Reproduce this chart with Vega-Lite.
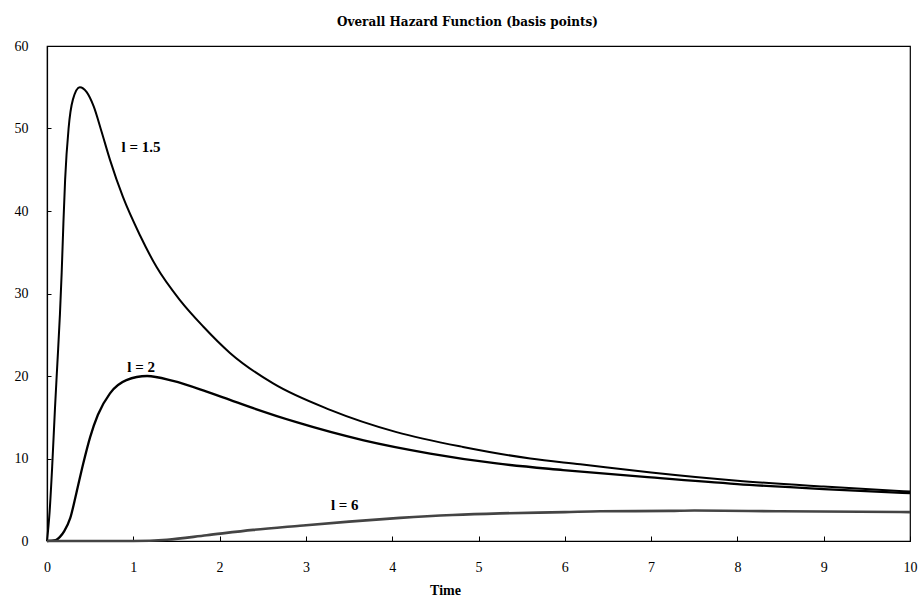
{
  "$schema": "https://vega.github.io/schema/vega-lite/v6.json",
  "width": 863,
  "height": 495,
  "autosize": {"type": "none"},
  "padding": {"left": 47, "top": 46, "right": 10, "bottom": 57},
  "background": "white",
  "config": {
    "view": {"stroke": "black", "strokeWidth": 1.2},
    "font": "Liberation Serif"
  },
  "title": {
    "text": "Overall Hazard Function (basis points)",
    "font": "DejaVu Serif",
    "fontSize": 12,
    "fontWeight": "bold",
    "color": "black",
    "offset": 10,
    "dx": -11
  },
  "datasets": {
    "curves": [
      {"series": "l15", "t": 0, "v": 0},
      {"series": "l15", "t": 0.03, "v": 3.5},
      {"series": "l15", "t": 0.06, "v": 9},
      {"series": "l15", "t": 0.093, "v": 16.2},
      {"series": "l15", "t": 0.12, "v": 21.5},
      {"series": "l15", "t": 0.15, "v": 27.5},
      {"series": "l15", "t": 0.17, "v": 32.5},
      {"series": "l15", "t": 0.19, "v": 38.5},
      {"series": "l15", "t": 0.21, "v": 43.8},
      {"series": "l15", "t": 0.25, "v": 50.0},
      {"series": "l15", "t": 0.3, "v": 53.5},
      {"series": "l15", "t": 0.38, "v": 55.0},
      {"series": "l15", "t": 0.46, "v": 54.4},
      {"series": "l15", "t": 0.54, "v": 52.7},
      {"series": "l15", "t": 0.63, "v": 49.7},
      {"series": "l15", "t": 0.73, "v": 46.2},
      {"series": "l15", "t": 0.88, "v": 41.7},
      {"series": "l15", "t": 1.08, "v": 37.0},
      {"series": "l15", "t": 1.27, "v": 33.2},
      {"series": "l15", "t": 1.54, "v": 29.2},
      {"series": "l15", "t": 1.81, "v": 26.0},
      {"series": "l15", "t": 2.12, "v": 22.8},
      {"series": "l15", "t": 2.62, "v": 19.1},
      {"series": "l15", "t": 3.28, "v": 15.9},
      {"series": "l15", "t": 4.05, "v": 13.2},
      {"series": "l15", "t": 4.82, "v": 11.4},
      {"series": "l15", "t": 5.6, "v": 10.0},
      {"series": "l15", "t": 6.18, "v": 9.3},
      {"series": "l15", "t": 7.0, "v": 8.3},
      {"series": "l15", "t": 8.0, "v": 7.3},
      {"series": "l15", "t": 9.0, "v": 6.6},
      {"series": "l15", "t": 10, "v": 6.0},
      {"series": "l2", "t": 0, "v": 0},
      {"series": "l2", "t": 0.1, "v": 0.1},
      {"series": "l2", "t": 0.15, "v": 0.5},
      {"series": "l2", "t": 0.2, "v": 1.2},
      {"series": "l2", "t": 0.27, "v": 2.8},
      {"series": "l2", "t": 0.34, "v": 5.8},
      {"series": "l2", "t": 0.42, "v": 9.4},
      {"series": "l2", "t": 0.5, "v": 12.6},
      {"series": "l2", "t": 0.59, "v": 15.3},
      {"series": "l2", "t": 0.73, "v": 17.9},
      {"series": "l2", "t": 0.92, "v": 19.5},
      {"series": "l2", "t": 1.16, "v": 20.0},
      {"series": "l2", "t": 1.46, "v": 19.4},
      {"series": "l2", "t": 1.85, "v": 18.1},
      {"series": "l2", "t": 2.12, "v": 17.1},
      {"series": "l2", "t": 2.39, "v": 16.1},
      {"series": "l2", "t": 2.89, "v": 14.4},
      {"series": "l2", "t": 3.67, "v": 12.2},
      {"series": "l2", "t": 4.44, "v": 10.6},
      {"series": "l2", "t": 5.21, "v": 9.4},
      {"series": "l2", "t": 5.98, "v": 8.6},
      {"series": "l2", "t": 7.0, "v": 7.7},
      {"series": "l2", "t": 8.0, "v": 6.9},
      {"series": "l2", "t": 9.0, "v": 6.3},
      {"series": "l2", "t": 10, "v": 5.8},
      {"series": "l6", "t": 0, "v": 0},
      {"series": "l6", "t": 1.0, "v": 0},
      {"series": "l6", "t": 1.39, "v": 0.15},
      {"series": "l6", "t": 1.85, "v": 0.7},
      {"series": "l6", "t": 2.39, "v": 1.35},
      {"series": "l6", "t": 2.93, "v": 1.85},
      {"series": "l6", "t": 3.5, "v": 2.35},
      {"series": "l6", "t": 4.09, "v": 2.8},
      {"series": "l6", "t": 4.7, "v": 3.15},
      {"series": "l6", "t": 5.25, "v": 3.35},
      {"series": "l6", "t": 6.0, "v": 3.5},
      {"series": "l6", "t": 6.41, "v": 3.6},
      {"series": "l6", "t": 7.22, "v": 3.65},
      {"series": "l6", "t": 7.5, "v": 3.7},
      {"series": "l6", "t": 8.5, "v": 3.6},
      {"series": "l6", "t": 10, "v": 3.5}
    ],
    "labels": [
      {"t": 1.09, "v": 47.8, "label": "l = 1.5"},
      {"t": 1.09, "v": 21.1, "label": "l = 2"},
      {"t": 3.45, "v": 4.4, "label": "l = 6"}
    ]
  },
  "encoding": {
    "x": {
      "field": "t",
      "type": "quantitative",
      "scale": {"domain": [0, 10], "nice": false, "zero": false},
      "axis": {
        "title": "Time",
        "titleFont": "Liberation Serif",
        "titleFontSize": 14,
        "titleFontWeight": "bold",
        "titleColor": "black",
        "titlePadding": 9,
        "titleX": 398,
        "values": [0, 1, 2, 3, 4, 5, 6, 7, 8, 9, 10],
        "format": "d",
        "grid": false,
        "domainColor": "black",
        "domainWidth": 1.2,
        "tickColor": "black",
        "tickSize": -5,
        "labelPadding": 24,
        "labelFont": "Liberation Serif",
        "labelFontSize": 14,
        "labelColor": "black",
        "labelFlush": false
      }
    },
    "y": {
      "field": "v",
      "type": "quantitative",
      "scale": {"domain": [0, 60], "nice": false},
      "axis": {
        "title": null,
        "values": [0, 10, 20, 30, 40, 50, 60],
        "grid": false,
        "domainColor": "black",
        "domainWidth": 1.2,
        "tickColor": "black",
        "tickSize": -4,
        "labelPadding": 23,
        "labelFont": "Liberation Serif",
        "labelFontSize": 14,
        "labelColor": "black",
        "labelFlush": false
      }
    }
  },
  "layer": [
    {
      "data": {"name": "curves"},
      "mark": {"type": "line", "interpolate": "monotone"},
      "encoding": {
        "detail": {"field": "series"},
        "strokeWidth": {
          "field": "series",
          "type": "nominal",
          "scale": {"domain": ["l15", "l2", "l6"], "range": [2, 2.6, 1]},
          "legend": null
        },
        "color": {
          "field": "series",
          "type": "nominal",
          "scale": {"domain": ["l15", "l2", "l6"], "range": ["#000000", "#000000", "#444444"]},
          "legend": null
        }
      }
    },
    {
      "data": {"name": "labels"},
      "mark": {
        "type": "text",
        "font": "Liberation Serif",
        "fontSize": 15,
        "fontWeight": "bold",
        "color": "black",
        "align": "center",
        "baseline": "middle"
      },
      "encoding": {"text": {"field": "label"}}
    }
  ]
}
